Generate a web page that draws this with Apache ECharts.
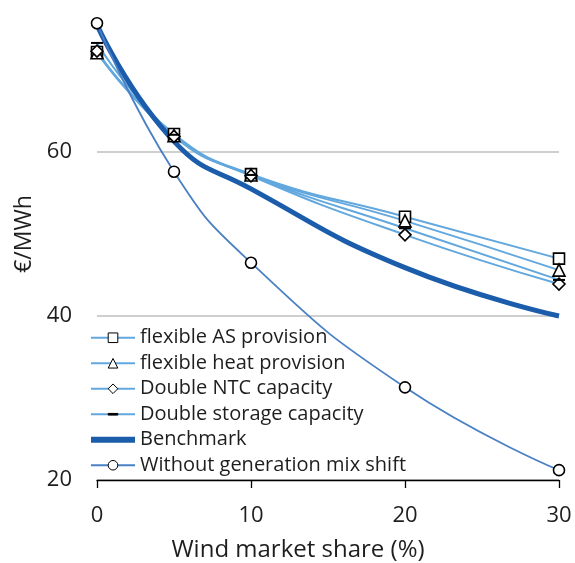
<!DOCTYPE html>
<html>
<head>
<meta charset="utf-8">
<script src="https://cdn.jsdelivr.net/npm/echarts@6/dist/echarts.min.js"></script>
<style>html,body{margin:0;padding:0;background:#fff}#c{width:575px;height:563px}</style>
</head>
<body>
<div id="c"></div>
<script>
const xValues = [0, 5, 10, 20, 30];
const flexAS = [72.2, 62.2, 57.3, 52.1, 47.0];
const flexHeat = [72.1, 62.0, 57.2, 51.6, 45.6];
const doubleNTC = [72.3, 61.9, 57.1, 49.9, 43.9];
const doubleStorage = [73.3, 62.1, 57.2, 50.7, 44.4];
const benchmark = [75.5, 61.3, 55.5, 45.9, 40.0];
const withoutShift = [75.7, 57.6, 46.5, 31.3, 21.2];
const seriesNames = ['flexible AS provision', 'flexible heat provision', 'Double NTC capacity', 'Double storage capacity', 'Benchmark', 'Without generation mix shift'];
const yTicks = [20, 40, 60, 80];
const xTicks = [0, 10, 20, 30];

const FONT = '"Open Sans"';
const TXT = '#1e1e1e';
const light = '#62A8DE';
const DASH = 'path://M0,0M12,12M0,5H12V7H0Z';
const pair = arr => xValues.map((x, i) => [x, arr[i]]);
const mk = (name, data, color, width, symbol, size, filled) => ({
  name, type: 'line', data: pair(data), smooth: 0.5,
  lineStyle: { color, width },
  itemStyle: { color: filled ? '#000' : '#fff', borderColor: '#000', borderWidth: filled ? 0 : 1.6 },
  symbol, symbolSize: size, showSymbol: size > 0, color
});

const chart = echarts.init(document.getElementById('c'));
chart.setOption({
  animation: false,
  grid: { left: 97, right: 16, top: -12, bottom: 83, outerBoundsMode: 'none', containLabel: false },
  xAxis: {
    type: 'value', min: xTicks[0], max: xTicks[xTicks.length - 1], interval: 10,
    axisLine: { lineStyle: { color: '#000', width: 1.3 } },
    axisTick: { show: true, inside: false, length: 8, lineStyle: { color: '#000', width: 1.3 } },
    axisLabel: { fontFamily: FONT, fontSize: 22, color: TXT, margin: 25 },
    splitLine: { show: false },
    name: 'Wind market share (%)', nameLocation: 'middle', nameGap: 70,
    nameTextStyle: { fontFamily: FONT, fontSize: 24, color: TXT, verticalAlign: 'middle', padding: [0, 60, 0, 0] }
  },
  yAxis: {
    type: 'value', min: yTicks[0], max: yTicks[yTicks.length - 1], interval: 20,
    axisLine: { show: false }, axisTick: { show: false },
    axisLabel: { fontFamily: FONT, fontSize: 22, color: TXT, margin: 25, showMaxLabel: false },
    splitLine: { lineStyle: { color: '#BFBFBF', width: 1.5 } },
    name: '€/MWh', nameLocation: 'middle', nameGap: 73, nameRotate: 90,
    nameTextStyle: { fontFamily: FONT, fontSize: 23, color: TXT, verticalAlign: 'middle' }
  },
  legend: {
    orient: 'vertical', left: 88, top: 325, padding: 0, itemGap: 0, itemWidth: 44, itemHeight: 12,
    textStyle: { fontFamily: FONT, fontSize: 20, color: TXT, lineHeight: 25.5 },
    itemStyle: { borderWidth: 1 },
    data: seriesNames.map((n, i) => i === 4
      ? { name: n, itemStyle: { opacity: 0 }, lineStyle: { width: 6 } }
      : { name: n, lineStyle: { width: 2 } })
  },
  series: [
    mk(seriesNames[0], flexAS, light, 2, 'rect', 11, false),
    mk(seriesNames[1], flexHeat, light, 2, 'triangle', 12, false),
    mk(seriesNames[2], doubleNTC, light, 2, 'diamond', 12, false),
    mk(seriesNames[3], doubleStorage, light, 2, DASH, 12, true),
    mk(seriesNames[4], benchmark, '#1B5DAA', 5, 'circle', 0, false),
    mk(seriesNames[5], withoutShift, '#4A80C4', 1.8, 'circle', 11, false)
  ]
});
</script>
</body>
</html>
